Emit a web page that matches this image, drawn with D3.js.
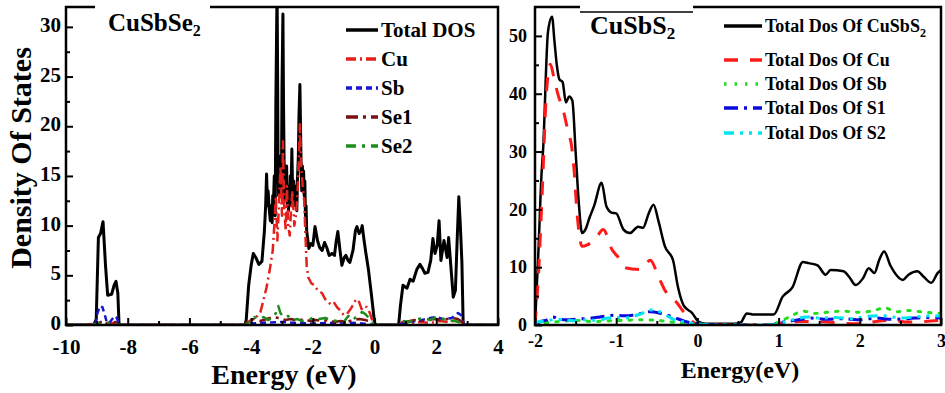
<!DOCTYPE html>
<html>
<head>
<meta charset="utf-8">
<script src="https://cdn.jsdelivr.net/npm/d3@7"></script>
<style>
  html, body { margin: 0; padding: 0; background: #fff; }
  svg { display: block; font-family: "Liberation Serif", "Times New Roman", serif; font-weight: bold; }
</style>
</head>
<body>
<svg id="chart" width="945" height="393"></svg>
<script>
// ---- data: CuSbSe2 (left panel) ----
const leftTicksX = [-10, -8, -6, -4, -2, 0, 2, 4]
const leftTicksY = [0, 5, 10, 15, 20, 25, 30]
const leftNames = ['Total DOS', 'Cu', 'Sb', 'Se1', 'Se2']

const seTotal = [[-10,0],[-9.1,0],[-9.02,0.6],[-8.95,8.8],[-8.88,9.2],[-8.8,10.4],[-8.72,6],[-8.65,3],[-8.52,3.1],[-8.44,4.0],[-8.38,4.4],[-8.32,3.2],[-8.28,0],
  [-4.2,0],[-4.16,0.5],[-4.08,4],[-4.0,6],[-3.93,7.2],[-3.85,6.8],[-3.75,6.1],[-3.65,6.4],
  [-3.57,9.5],[-3.53,12],[-3.5,15.2],[-3.47,12],[-3.45,13.5],[-3.41,11.5],[-3.38,10.5],[-3.35,12],[-3.32,10.3],[-3.3,13],[-3.28,12],[-3.25,15],[-3.22,11],
  [-3.2,22],[-3.18,28],[-3.16,34],[-3.14,24],[-3.13,17],[-3.11,13],[-3.09,16.5],[-3.06,14],[-3.04,17],[-3.02,13],[-3.0,24],[-2.97,31.3],[-2.95,22],[-2.93,16],
  [-2.91,12.5],[-2.89,15.5],[-2.87,13],[-2.85,16],[-2.83,12],[-2.81,14],[-2.79,11.5],[-2.77,13],[-2.75,12],[-2.73,15],[-2.71,13],[-2.68,17.7],[-2.66,14],
  [-2.64,12],[-2.62,14.5],[-2.6,12],[-2.58,14],[-2.56,12.5],[-2.54,13.5],[-2.52,11.5],[-2.5,14.5],[-2.47,17],[-2.45,21],[-2.42,24.2],[-2.4,20],[-2.38,16],
  [-2.36,13.5],[-2.34,16],[-2.32,14],[-2.3,15.5],[-2.28,13],[-2.26,14.5],[-2.24,11],[-2.22,12],[-2.2,9.5],
  [-2.13,7.7],[-2.06,8.2],[-2.0,8],[-1.93,9.9],[-1.85,8.5],[-1.78,7.8],
  [-1.7,7.5],[-1.62,8.3],[-1.55,7.8],[-1.47,7.0],[-1.38,7.2],[-1.3,7.0],[-1.24,8.5],[-1.19,9.4],[-1.12,7.5],[-1.06,6.0],[-0.98,6.8],[-0.93,7.0],[-0.86,6.5],[-0.8,6.3],
  [-0.7,7.5],[-0.62,9.5],[-0.57,9.9],[-0.5,9.2],[-0.44,9.5],[-0.4,10],[-0.34,8.5],[-0.28,7.2],[-0.2,5.6],[-0.1,3],[0.0,0.2],[0.05,0],
  [0.78,0],[0.84,2],[0.92,4],[1.0,3.8],[1.05,3.7],[1.15,4.6],[1.25,4.4],[1.37,5.6],[1.47,6.1],[1.55,5.7],[1.63,5.2],[1.73,5.3],[1.82,6.5],[1.89,8.7],[1.96,7.2],
  [2.03,8],[2.09,10.5],[2.15,6.5],[2.25,8.5],[2.35,6.8],[2.4,8.8],[2.47,6],[2.55,2.8],[2.62,3.5],[2.67,8],[2.73,12.9],[2.78,10],[2.83,6.3],[2.87,0.3],[2.9,0],[4,0]]

const seCu = [[-10,0],[-9.0,0.1],[-8.85,0.3],[-8.7,0.1],[-8.5,0.2],[-8.3,0],[-4.2,0],[-4.1,0.3],[-3.95,0.6],[-3.8,0.9],[-3.7,1.3],[-3.6,2.5],[-3.5,3.8],[-3.4,5.5],
  [-3.3,7.5],[-3.25,10],[-3.2,13],[-3.15,8.5],[-3.1,12],[-3.05,16],[-3.0,11],[-2.97,18.5],[-2.93,12],[-2.88,9.5],[-2.84,14],[-2.8,10],[-2.75,9],[-2.7,12],[-2.66,13.5],
  [-2.6,10],[-2.55,11],[-2.5,13],[-2.45,17],[-2.42,20.2],[-2.38,16],[-2.33,14],[-2.28,12.5],[-2.24,9],[-2.2,6],[-2.15,4.8],[-2.05,4.2],[-1.95,4.0],[-1.85,3.5],
  [-1.7,3.2],[-1.6,2.6],[-1.5,2.3],[-1.4,2.0],[-1.3,2.2],[-1.22,1.8],[-1.1,1.4],[-1.0,1.0],[-0.9,1.1],[-0.8,1.5],[-0.7,2.0],[-0.6,2.6],[-0.5,2.3],[-0.42,1.6],
  [-0.35,1.9],[-0.25,1.8],[-0.15,1.2],[-0.06,0.3],[0,0],[0.8,0],[0.9,0.3],[1.2,0.2],[1.5,0.3],[1.8,0.2],[2.1,0.4],[2.4,0.3],[2.7,0.5],[2.85,0.2],[2.95,0],[4,0]]

const seSb = [[-10,0],[-9.05,0],[-8.98,1.2],[-8.9,1.9],[-8.82,1.8],[-8.75,1.1],[-8.68,0.3],[-8.6,0.2],[-8.5,0.6],[-8.42,0.9],[-8.35,0.7],[-8.28,0],[-4.2,0],
  [-4.0,0.15],[-3.5,0.25],[-3.0,0.3],[-2.5,0.2],[-2.0,0.15],[-1.5,0.2],[-1.0,0.25],[-0.5,0.2],[0,0],[0.8,0],[1.0,0.3],[1.4,0.4],[1.8,0.7],[2.0,0.8],[2.2,0.6],
  [2.5,0.7],[2.7,1.2],[2.8,1.0],[2.9,0],[4,0]]

const seSe1 = [[-10,0],[-8.95,0],[-8.85,0.4],[-8.7,0.2],[-8.4,0.3],[-8.28,0],[-4.2,0],[-4.1,0.5],[-3.9,0.6],[-3.7,0.4],[-3.5,0.6],[-3.3,0.8],[-3.1,0.7],[-2.9,0.5],
  [-2.7,0.6],[-2.5,0.4],[-2.3,0.6],[-2.1,0.4],[-1.9,0.5],[-1.7,0.4],[-1.5,0.5],[-1.3,0.3],[-1.1,0.4],[-0.9,0.3],[-0.7,0.5],[-0.5,0.6],[-0.3,0.5],[-0.1,0.3],[0,0],
  [0.8,0],[1.0,0.3],[1.3,0.5],[1.6,0.4],[1.9,0.6],[2.2,0.5],[2.5,0.7],[2.7,0.6],[2.85,0.3],[2.95,0],[4,0]]

const seSe2 = [[-10,0],[-9.0,0.1],[-8.6,0.2],[-8.3,0],[-4.2,0],[-4.05,0.3],[-3.9,0.8],[-3.75,0.6],[-3.6,0.8],[-3.45,0.5],[-3.3,0.7],[-3.2,1.2],[-3.12,1.9],[-3.05,1.2],
  [-2.95,0.8],[-2.8,0.9],[-2.65,0.5],[-2.5,0.6],[-2.35,0.4],[-2.2,0.5],[-2.0,0.7],[-1.8,0.6],[-1.6,0.7],[-1.4,0.5],[-1.2,0.4],[-1.0,0.3],[-0.85,0.9],[-0.7,0.5],
  [-0.55,1.0],[-0.4,1.3],[-0.3,1.1],[-0.15,0.6],[0,0],[0.8,0],[0.9,0.4],[1.1,0.3],[1.4,0.6],[1.6,0.7],[1.8,0.5],[2.0,0.8],[2.3,0.5],[2.6,0.4],[2.85,0.2],[2.95,0],[4,0]]

// ---- data: CuSbS2 (right panel) ----
const rightTicksX = [-2, -1, 0, 1, 2, 3]
const rightTicksY = [0, 10, 20, 30, 40, 50]
const rightNames = ['Total Dos Of CuSbS', 'Total Dos Of Cu', 'Total Dos Of Sb', 'Total Dos Of S1', 'Total Dos Of S2']

const sTotal = [[-2,0],[-1.96,12],[-1.92,26],[-1.9,30.4],[-1.84,50.7],[-1.79,53.3],[-1.76,49],[-1.73,44.8],[-1.7,42.5],[-1.66,42],[-1.62,38.5],[-1.58,39.5],
  [-1.54,38.8],[-1.5,30],[-1.46,21],[-1.42,15.9],[-1.38,16.5],[-1.33,18.5],[-1.27,20.7],[-1.18,24.6],[-1.12,20.5],[-1.05,19.4],[-1.0,19.3],[-0.91,16.5],
  [-0.83,15.9],[-0.73,17],[-0.67,16.8],[-0.6,19.3],[-0.54,20.8],[-0.48,18],[-0.4,13.6],[-0.3,11.2],[-0.24,6.6],[-0.17,3.4],[-0.06,2.0],[0.01,0.6],[0.1,0.2],
  [0.45,0.2],[0.53,0.4],[0.61,2.0],[0.7,1.8],[0.94,1.8],[1.05,4.9],[1.17,6.5],[1.3,10.9],[1.37,10.7],[1.48,10.3],[1.58,8.7],[1.64,9.5],[1.8,9.3],[1.87,8.3],
  [1.95,6.9],[2.04,8.1],[2.11,9.8],[2.18,9.0],[2.24,11.3],[2.3,12.7],[2.38,10.2],[2.53,7.8],[2.6,8.7],[2.71,9.3],[2.79,8.3],[2.88,7.3],[2.96,9.0],[3,9.5]]

const sCu = [[-2,0],[-1.96,8],[-1.91,23.4],[-1.86,40],[-1.81,45.1],[-1.77,43],[-1.72,40],[-1.65,37],[-1.59,33.3],[-1.55,31],[-1.52,27],[-1.48,19],[-1.42,13.6],
  [-1.35,13.9],[-1.26,14.8],[-1.16,16.5],[-1.05,13],[-0.95,11.3],[-0.89,9.9],[-0.7,9.6],[-0.58,11.2],[-0.48,8.4],[-0.4,6.0],[-0.25,3.8],[-0.17,2.3],[-0.03,0.3],
  [0.1,0],[0.9,0],[1.0,0.3],[1.3,0.6],[1.6,0.5],[1.8,0.3],[2.0,0.2],[2.2,0.6],[2.4,0.8],[2.6,0.5],[2.8,0.6],[3,0.8]]

const sSb = [[-2,0],[-1.9,0.3],[-1.7,0.6],[-1.5,0.8],[-1.3,0.6],[-1.1,0.7],[-0.9,0.8],[-0.7,0.9],[-0.5,0.8],[-0.3,0.5],[-0.1,0.2],[0.1,0],[0.9,0],[1.0,0.5],
  [1.15,1.5],[1.3,2.4],[1.45,2.0],[1.6,2.2],[1.8,2.4],[2.0,2.2],[2.2,2.6],[2.3,3.0],[2.45,2.3],[2.6,2.5],[2.8,2.2],[3,2.0]]

const sS1 = [[-2,0],[-1.95,0.5],[-1.85,0.9],[-1.78,1.4],[-1.7,1.0],[-1.6,0.9],[-1.5,1.0],[-1.4,1.1],[-1.3,1.2],[-1.2,1.4],[-1.1,1.6],[-1.03,1.7],[-0.9,1.6],
  [-0.8,1.7],[-0.7,2.0],[-0.58,2.3],[-0.45,2.0],[-0.3,1.4],[-0.15,0.6],[0,0.2],[0.2,0],[0.9,0],[1.05,0.5],[1.2,0.8],[1.4,1.2],[1.6,1.0],[1.8,1.1],[2.0,0.9],
  [2.2,1.2],[2.4,1.0],[2.6,1.1],[2.8,1.3],[3,1.2]]

const sS2 = [[-2,0],[-1.95,0.6],[-1.85,0.7],[-1.75,1.0],[-1.6,0.8],[-1.5,0.7],[-1.4,0.9],[-1.3,0.8],[-1.2,0.9],[-1.1,1.2],[-1.0,1.3],[-0.9,1.2],[-0.8,1.5],
  [-0.7,1.9],[-0.58,2.6],[-0.5,2.5],[-0.4,1.8],[-0.3,1.0],[-0.15,0.5],[0,0.2],[0.2,0],[0.9,0],[1.05,0.4],[1.2,1.0],[1.35,1.4],[1.5,1.2],[1.7,1.3],[1.9,1.1],
  [2.1,1.5],[2.3,1.6],[2.5,1.2],[2.7,1.4],[2.9,1.6],[3,1.5]]

// ---- styles ----
const leftStyles = [
  { color: '#000', width: 3, dash: null },
  { color: '#e3201b', width: 2.5, dash: '10,4,2,4' },
  { color: '#1515d0', width: 2.5, dash: '6,4' },
  { color: '#7a1212', width: 2.5, dash: '12,5,3,5' },
  { color: '#1d8c1d', width: 2.5, dash: '10,6,3,6' }
]
const rightStyles = [
  { color: '#000', width: 2.5, dash: null },
  { color: '#ff1a1a', width: 3, dash: '14,12' },
  { color: '#22dd22', width: 3, dash: '2.5,8' },
  { color: '#0a0ae0', width: 3, dash: '14,6,3,6' },
  { color: '#00e5ee', width: 3, dash: '10,6,3,6,3,6' }
]

const svg = d3.select('#chart')
const fmt = d => String(d)   // plain hyphen minus, like the original

function drawPanel(cfg) {
  const x = d3.scaleLinear().domain(cfg.xDomain).range([cfg.x0, cfg.x1])
  const y = d3.scaleLinear().domain(cfg.yDomain).range([cfg.y1, cfg.y0])
  const g = svg.append('g')

  g.append('clipPath').attr('id', cfg.id + '-clip')
    .append('rect')
    .attr('x', cfg.x0).attr('y', cfg.y0)
    .attr('width', cfg.x1 - cfg.x0).attr('height', cfg.y1 - cfg.y0)

  const line = d3.line()
    .x(d => x(d[0]))
    .y(d => y(d[1]))
    .curve(cfg.curve)

  const plot = g.append('g').attr('clip-path', `url(#${cfg.id}-clip)`)
  cfg.series.forEach((s, i) => {
    const st = cfg.styles[i]
    plot.append('path')
      .datum(s)
      .attr('fill', 'none')
      .attr('stroke', st.color)
      .attr('stroke-width', st.width)
      .attr('stroke-dasharray', st.dash)
      .attr('stroke-linecap', i === 2 && cfg.id === 'right' ? 'round' : 'butt')
      .attr('stroke-linejoin', 'round')
      .attr('d', line)
  })

  // axes, ticks pointing inward
  const xAxis = g.append('g')
    .attr('transform', `translate(0,${cfg.y1})`)
    .call(d3.axisBottom(x).tickValues(cfg.ticksX).tickSize(-7).tickPadding(cfg.xPad).tickFormat(fmt))
  const xMinor = g.append('g')
    .attr('transform', `translate(0,${cfg.y1})`)
    .call(d3.axisBottom(x).tickValues(cfg.minorX).tickSize(-4).tickFormat(''))
  const yAxis = g.append('g')
    .attr('transform', `translate(${cfg.x0},0)`)
    .call(d3.axisLeft(y).tickValues(cfg.ticksY).tickSize(-7).tickPadding(cfg.yPad).tickFormat(fmt))
  const yMinor = g.append('g')
    .attr('transform', `translate(${cfg.x0},0)`)
    .call(d3.axisLeft(y).tickValues(cfg.minorY).tickSize(-4).tickFormat(''))

  ;[xAxis, xMinor, yAxis, yMinor].forEach(a => {
    a.select('.domain').remove()
    a.selectAll('line').attr('stroke', '#000').attr('stroke-width', 2)
    a.selectAll('text')
      .attr('fill', '#000')
      .style('font-family', '"Liberation Serif", "Times New Roman", serif')
      .style('font-weight', 'bold')
      .style('font-size', cfg.tickFont + 'px')
  })
  yAxis.selectAll('text').attr('dy', cfg.yDy)

  // frame
  g.append('rect')
    .attr('x', cfg.x0).attr('y', cfg.y0)
    .attr('width', cfg.x1 - cfg.x0).attr('height', cfg.y1 - cfg.y0)
    .attr('fill', 'none').attr('stroke', '#000').attr('stroke-width', 2.5)

  return { g, x, y }
}

const left = drawPanel({
  id: 'left', x0: 66, x1: 498, y0: 7, y1: 325,
  xDomain: [-10, 4], yDomain: [0, 32],
  ticksX: leftTicksX, ticksY: leftTicksY,
  minorX: d3.range(-9, 4, 2), minorY: d3.range(2.5, 32, 5),
  xPad: 14, yPad: 5, yDy: '0.22em', tickFont: 21,
  series: [seTotal, seCu, seSb, seSe1, seSe2], styles: leftStyles,
  curve: d3.curveLinear
})

const right = drawPanel({
  id: 'right', x0: 535, x1: 941, y0: 7, y1: 325,
  xDomain: [-2, 3], yDomain: [0, 55],
  ticksX: rightTicksX, ticksY: rightTicksY,
  minorX: d3.range(-1.5, 3, 1), minorY: d3.range(5, 55, 10),
  xPad: 9, yPad: 8, yDy: '0.32em', tickFont: 18,
  series: [sTotal, sCu, sSb, sS1, sS2], styles: rightStyles,
  curve: d3.curveMonotoneX
})

// panel titles (white label boxes over the top frame)
svg.append('rect').attr('x', 95).attr('y', 0).attr('width', 115).attr('height', 13).attr('fill', '#fff')
const t1 = svg.append('text').attr('x', 108).attr('y', 31).style('font-size', '25px')
t1.append('tspan').text('CuSbSe')
t1.append('tspan').attr('dy', 5).style('font-size', '16px').text('2')

svg.append('rect').attr('x', 580).attr('y', 0).attr('width', 113).attr('height', 12).attr('fill', '#fff')
svg.append('line').attr('x1', 580).attr('x2', 693).attr('y1', 12).attr('y2', 12).attr('stroke', '#000').attr('stroke-width', 1.5)
const t2 = svg.append('text').attr('x', 590).attr('y', 34).style('font-size', '26px')
t2.append('tspan').text('CuSbS')
t2.append('tspan').attr('dy', 5).style('font-size', '17px').text('2')

// legends
function drawLegend(names, styles, lx, rowY, fontSize, sampleLen) {
  const lg = svg.append('g')
  names.forEach((n, i) => {
    const st = styles[i]
    lg.append('line')
      .attr('x1', lx).attr('x2', lx + sampleLen)
      .attr('y1', rowY[i]).attr('y2', rowY[i])
      .attr('stroke', st.color).attr('stroke-width', 3.5)
      .attr('stroke-dasharray', st.dash)
    const t = lg.append('text')
      .attr('x', lx + sampleLen + 3).attr('y', rowY[i] + fontSize * 0.33)
      .style('font-size', fontSize + 'px')
      .text(n)
    if (i === 0 && n.endsWith('CuSbS')) {
      t.append('tspan').attr('dy', 5).style('font-size', '12px').text('2')
    }
  })
}
drawLegend(leftNames, leftStyles, 346, [30, 59, 88, 117, 146], 21, 32)
drawLegend(rightNames, rightStyles, 724, [26, 60, 84, 108, 133], 18, 38)

// axis titles
svg.append('text')
  .attr('transform', 'translate(31,158) rotate(-90)')
  .attr('text-anchor', 'middle')
  .style('font-size', '30px')
  .text('Density Of States')
svg.append('text')
  .attr('x', 284).attr('y', 384)
  .attr('text-anchor', 'middle')
  .style('font-size', '28px')
  .text('Energy (eV)')
svg.append('text')
  .attr('x', 740).attr('y', 378)
  .attr('text-anchor', 'middle')
  .style('font-size', '24px')
  .text('Energy(eV)')
</script>
</body>
</html>
